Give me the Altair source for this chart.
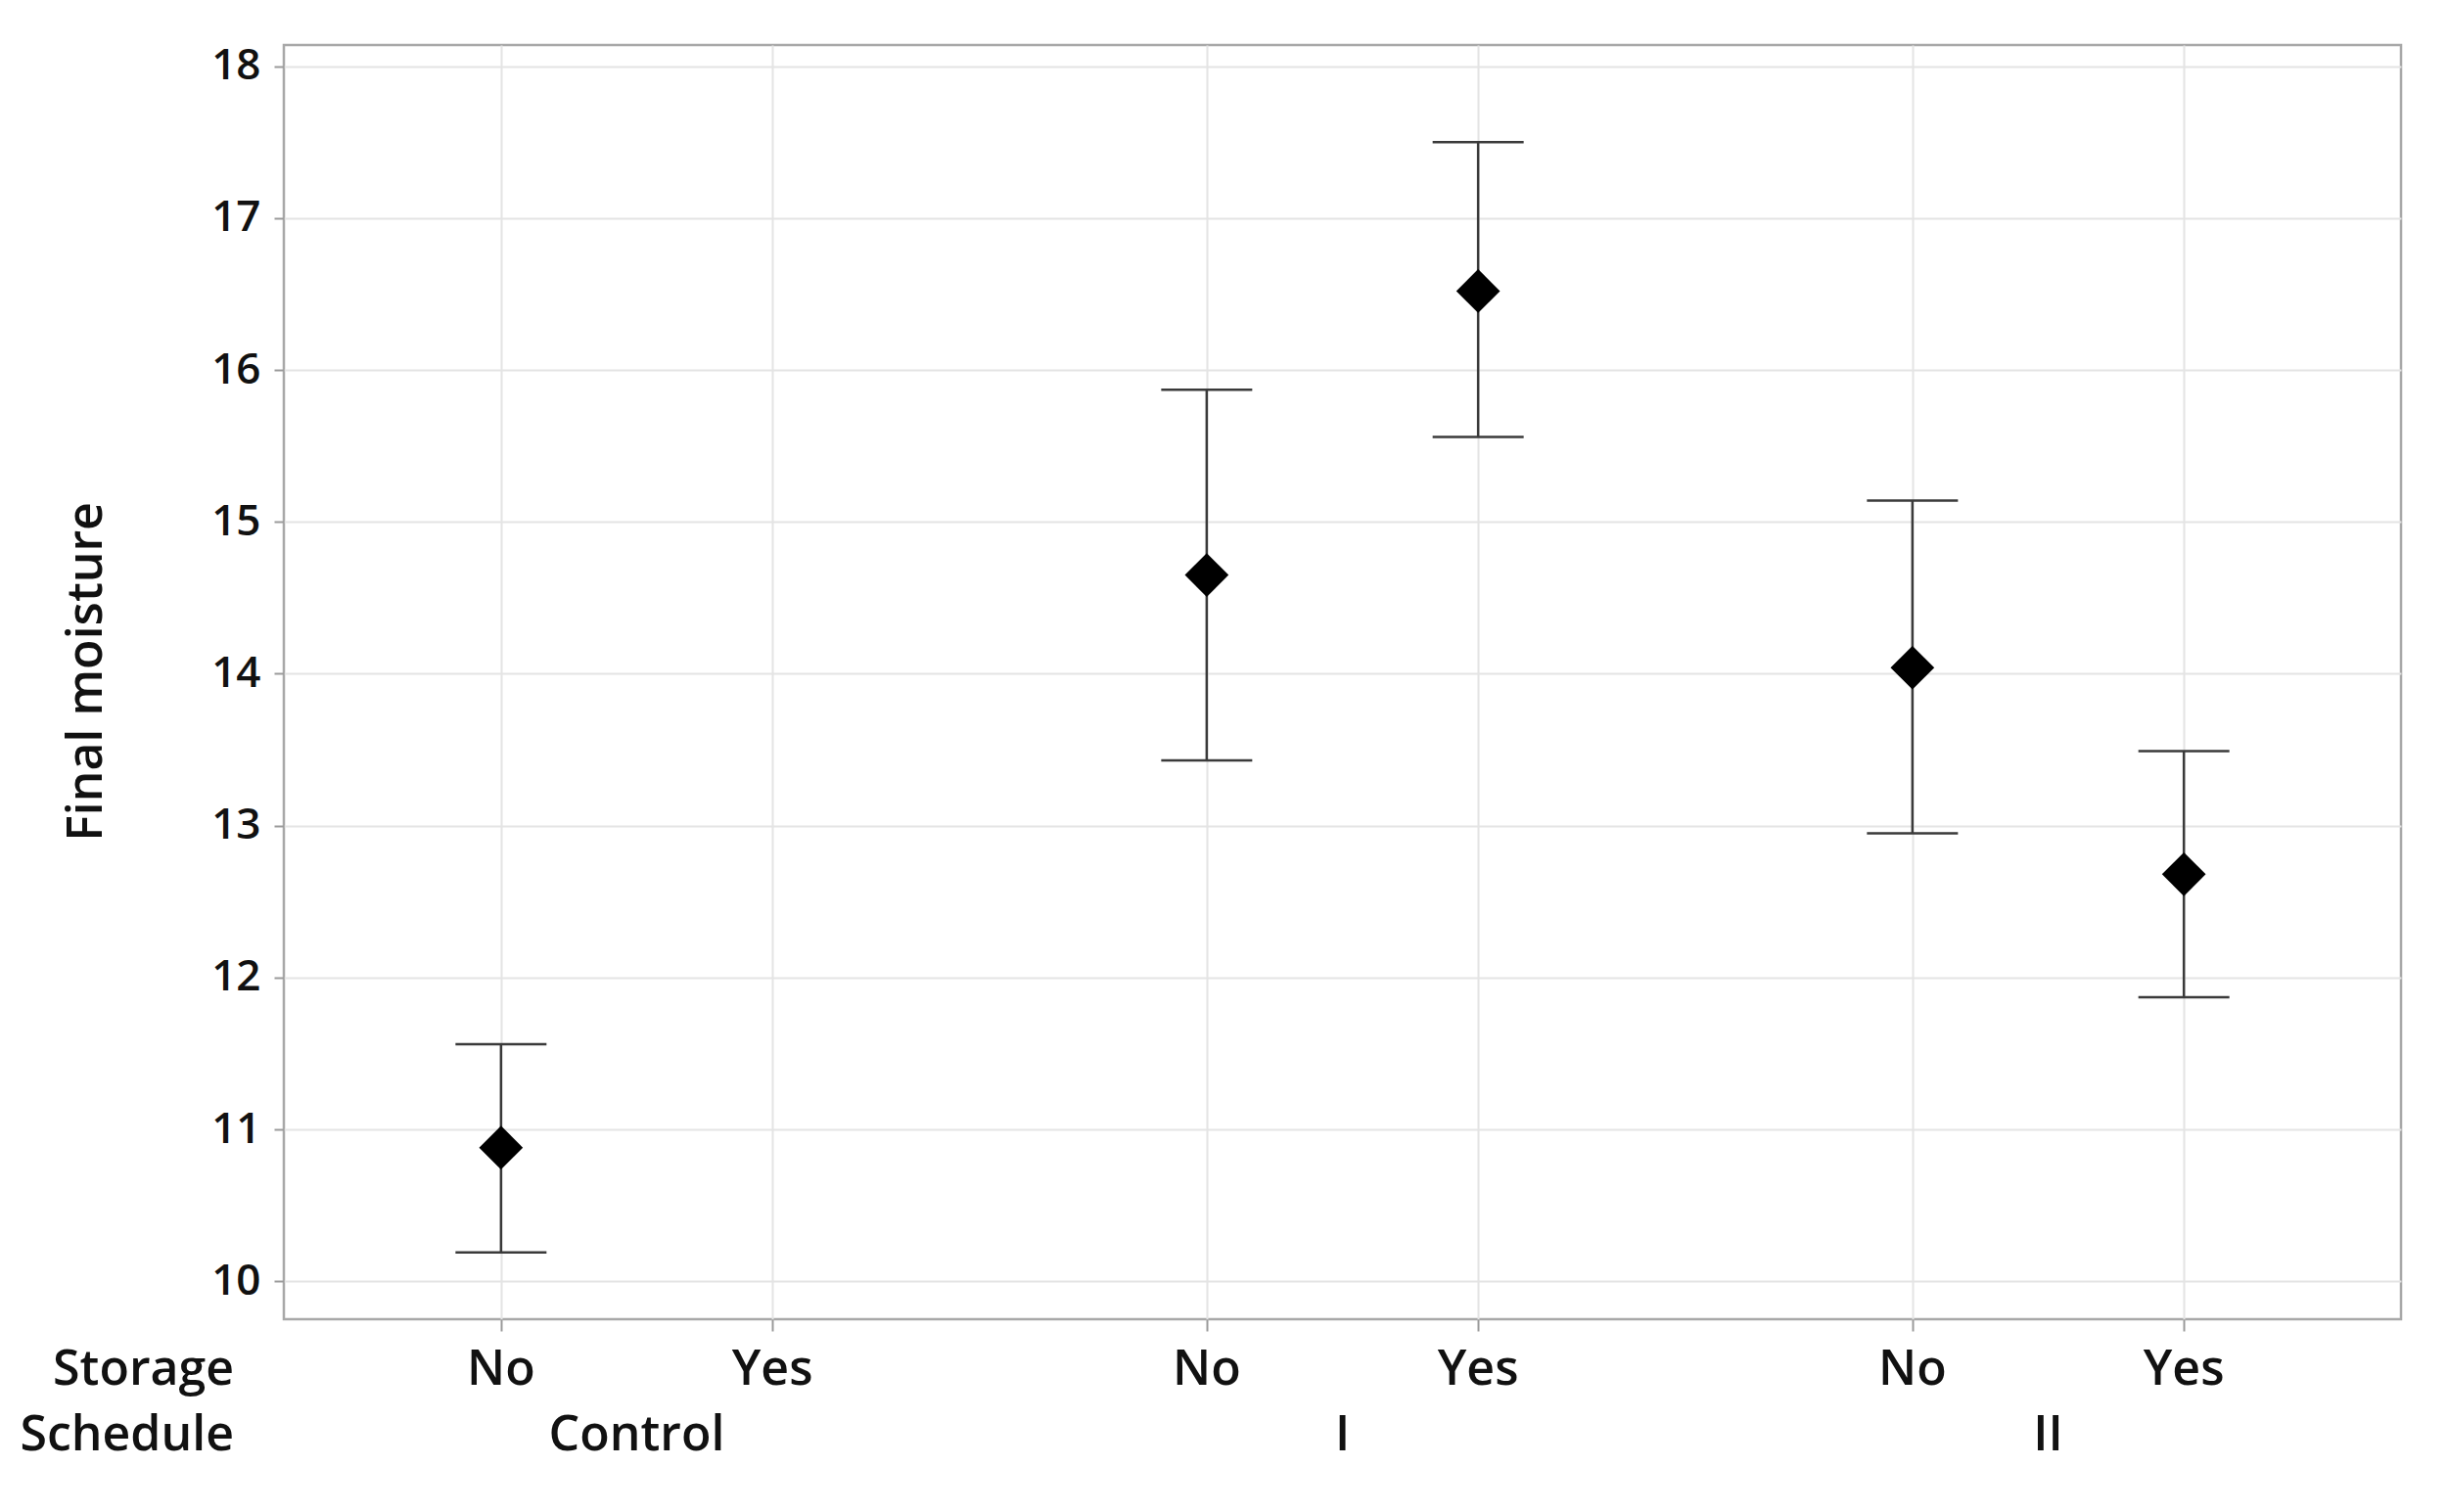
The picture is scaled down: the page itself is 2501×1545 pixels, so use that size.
import altair as alt
import pandas as pd

# ---- data ----
schedule = ["Control", "Control", "I", "I", "II", "II"]
storage = ["No", "Yes", "No", "Yes", "No", "Yes"]
mean = [10.88, None, 14.65, 16.52, 14.04, 12.68]
lower = [10.19, None, 13.43, 15.56, 12.95, 11.87]
upper = [11.56, None, 15.87, 17.50, 15.14, 13.49]
schedule_groups = ["Control", "I", "II"]
storage_levels = ["No", "Yes"]
y_ticks = [10, 11, 12, 13, 14, 15, 16, 17, 18]

GROUP_STEP = 2.6
pos = [schedule_groups.index(s) * GROUP_STEP + storage_levels.index(st)
       for s, st in zip(schedule, storage)]
pos = [round(p, 4) for p in pos]

df = pd.DataFrame({"schedule": schedule, "storage": storage, "pos": pos,
                   "mean": mean, "lower": lower, "upper": upper})
vals = df.dropna()

FONT = "Open Sans"
TXT = "#111111"
W, H = 2163, 1302
GRID = "#e4e4e4"
BAR = "#3a3a3a"
FS = 50

xscale = alt.Scale(domain=[-0.8, 7.0], nice=False, zero=False)
yscale = alt.Scale(domain=[9.75, 18.14], nice=False, zero=False)

x_axis = alt.Axis(values=pos, labels=False, title=None, grid=True,
                  gridColor=GRID, gridWidth=2, ticks=True, tickSize=12,
                  tickColor="#9a9a9a", tickWidth=2, domain=False)
y_axis = alt.Axis(values=y_ticks, title="Final moisture", grid=True,
                  gridColor=GRID, gridWidth=2, tickSize=10, tickWidth=2,
                  tickColor="#9a9a9a", domain=False, labelFont=FONT,
                  labelFontSize=44, labelFontWeight=600, labelColor=TXT,
                  labelPadding=14, titleFont=FONT, titleFontSize=FS,
                  titleFontWeight=600, titleColor=TXT, titleAngle=270,
                  titleX=-202, titleY=640, titleAlign="center",
                  titleBaseline="middle")

X = alt.X("pos:Q", scale=xscale, axis=x_axis)


def Y(field):
    return alt.Y(f"{field}:Q", scale=yscale, axis=y_axis)


base = alt.Chart(df)

bars = alt.Chart(vals).mark_rule(color=BAR, strokeWidth=2.5).encode(
    x=X, y=Y("lower"), y2="upper:Q")

cap_lo = alt.Chart(vals).mark_tick(orient="horizontal", size=93, thickness=2.5,
                                   color=BAR, opacity=1).encode(x=X, y=Y("lower"))
cap_hi = alt.Chart(vals).mark_tick(orient="horizontal", size=93, thickness=2.5,
                                   color=BAR, opacity=1).encode(x=X, y=Y("upper"))

points = alt.Chart(vals).mark_point(shape="diamond", filled=True, size=2000,
                                    color="black", opacity=1).encode(
    x=X, y=Y("mean"))

storage_txt = base.mark_text(font=FONT, fontSize=FS, fontWeight=600, color=TXT,
                             baseline="middle", align="center").encode(
    x=X, y=alt.value(H + 52), text="storage:N")

sched_txt = base.transform_aggregate(
    pos="mean(pos)", groupby=["schedule"]).mark_text(
    font=FONT, fontSize=FS, fontWeight=600, color=TXT,
    baseline="middle", align="center").encode(
    x=X, y=alt.value(H + 119), text="schedule:N")

row_lbl = pd.DataFrame({"label": ["Storage", "Schedule"]})
storage_hdr = alt.Chart(row_lbl).transform_filter(
    alt.datum.label == "Storage").mark_text(
    font=FONT, fontSize=FS, fontWeight=600, color=TXT, baseline="middle",
    align="right").encode(x=alt.value(-51), y=alt.value(H + 52), text="label:N")
sched_hdr = alt.Chart(row_lbl).transform_filter(
    alt.datum.label == "Schedule").mark_text(
    font=FONT, fontSize=FS, fontWeight=600, color=TXT, baseline="middle",
    align="right").encode(x=alt.value(-51), y=alt.value(H + 119), text="label:N")

chart = alt.layer(bars, cap_lo, cap_hi, points, storage_txt,
                  sched_txt, storage_hdr, sched_hdr).properties(
    width=W, height=H,
    autosize=alt.AutoSizeParams(type="none"),
    padding={"left": 282, "top": 38, "right": 30, "bottom": 180},
    background="white",
).configure_view(stroke="#a8a8a8", strokeWidth=2.5)

chart.save("out.html", embed_options={"renderer": "svg", "actions": False})
